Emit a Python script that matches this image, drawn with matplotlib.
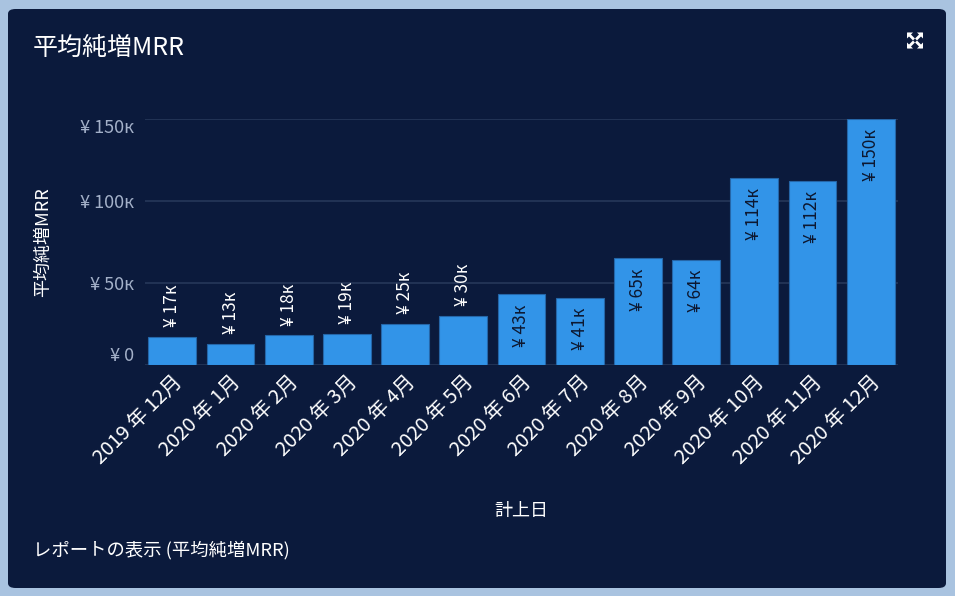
import matplotlib
matplotlib.use("Agg")
import matplotlib.pyplot as plt
from matplotlib.patches import FancyBboxPatch, Polygon
from matplotlib.lines import Line2D
from matplotlib.ticker import FuncFormatter

plt.rcParams['font.family'] = ['Noto Sans CJK JP', 'DejaVu Sans']

# data (values in yen)
months = ["2019 年 12月", "2020 年 1月", "2020 年 2月", "2020 年 3月", "2020 年 4月",
          "2020 年 5月", "2020 年 6月", "2020 年 7月", "2020 年 8月", "2020 年 9月",
          "2020 年 10月", "2020 年 11月", "2020 年 12月"]
mrr = [17000, 13000, 18000, 19000, 25000, 30000, 43000, 41000,
       65000, 64000, 114000, 112000, 150000]
yticks = [0, 50000, 100000, 150000]

navy = '#0b1a3c'
bar_col = '#3294e8'
grid_col = '#263759'

W, H = 955, 596
fig = plt.figure(figsize=(W / 100, H / 100), dpi=100)
fig.patch.set_facecolor('#a9c3e0')

# card background
card = FancyBboxPatch((8 / W, 8 / H), 938 / W, 579 / H,
                      boxstyle="round,pad=0,rounding_size=0.008",
                      transform=fig.transFigure, facecolor=navy, edgecolor='none', zorder=-5)
fig.add_artist(card)

ax = fig.add_axes([145 / W, 1 - 365 / H, 753 / W, 246 / H])
ax.set_facecolor('none')
ax.set_zorder(2)

x = list(range(len(months)))
ax.bar(x, mrr, width=0.82, color=bar_col, edgecolor='#2566a8', linewidth=0.8, zorder=3)

ax.set_xlim(-0.47, len(months) - 0.53)
ax.set_ylim(0, 150000)
ax.set_yticks(yticks)
ax.yaxis.set_major_formatter(FuncFormatter(lambda v, p: "¥ 0" if v == 0 else f"¥ {int(v / 1000)}к"))
ax.grid(axis='y', color=grid_col, linewidth=1.2, zorder=0)
ax.set_axisbelow(True)
for s in ax.spines.values():
    s.set_visible(False)
ax.tick_params(axis='y', length=0, pad=8, labelcolor='#a3b0c8', labelsize=13)
ax.tick_params(axis='x', length=0, pad=5, labelcolor='white', labelsize=14.5)
ax.set_xticks(x)
ax.set_xticklabels(months, rotation=45, ha='right', rotation_mode='anchor')

# outer y labels sit inside the grid range
ylabels = ax.get_yticklabels()
ylabels[0].set_va('bottom')
ylabels[-1].set_va('top')

# bar labels
for xi, v in zip(x, mrr):
    lbl = f"¥ {int(round(v / 1000))}к"
    if v > 35000:
        ax.annotate(lbl, (xi, v), xytext=(0, -7), textcoords='offset points',
                    rotation=90, ha='center', va='top', color='#0d1830', fontsize=12.5, zorder=4)
    else:
        ax.annotate(lbl, (xi, v), xytext=(0, 7), textcoords='offset points',
                    rotation=90, ha='center', va='bottom', color='white', fontsize=12.5, zorder=4)

ax.set_ylabel("平均純増MRR", color='white', fontsize=13)
ax.yaxis.set_label_coords(-93 / 753, 0.5)
ax.set_xlabel("計上日", color='white', fontsize=13)
ax.xaxis.set_label_coords(0.5, -(502 - 365) / 246)

fig.text(33 / W, 1 - 48 / H, "平均純増MRR", color='white', fontsize=18, va='center', ha='left')
fig.text(33 / W, 1 - 550 / H, "レポートの表示 (平均純増MRR)", color='white', fontsize=13.2,
         va='center', ha='left')

# expand icon: four arrows pointing to the corners
cx, cy = 915, 40.5
for sx in (-1, 1):
    for sy in (-1, 1):
        tip = (cx + sx * 8, cy + sy * 8)
        tri = [tip, (tip[0] - sx * 6, tip[1]), (tip[0], tip[1] - sy * 6)]
        fig.add_artist(Polygon([(px / W, 1 - py / H) for px, py in tri], closed=True,
                               transform=fig.transFigure, facecolor='white', edgecolor='none', zorder=5))
        fig.add_artist(Line2D([(cx + sx * 2) / W, (cx + sx * 6) / W],
                              [1 - (cy + sy * 2) / H, 1 - (cy + sy * 6) / H],
                              transform=fig.transFigure, color='white', linewidth=2, zorder=5))

fig.savefig("out.png", dpi=100, facecolor=fig.get_facecolor())
